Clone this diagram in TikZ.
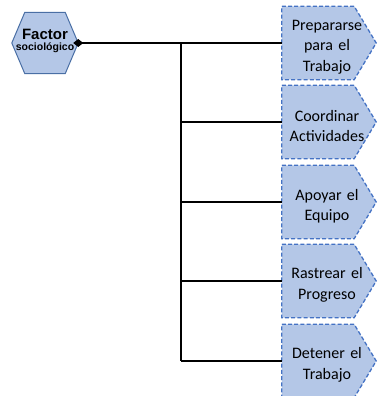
\documentclass[tikz,border=0pt]{standalone}
\usepackage{fontspec}
\setmainfont{Carlito}
\newfontfamily\headfont{Liberation Sans}
\usetikzlibrary{arrows.meta,calc}
\definecolor{boxfill}{HTML}{B4C7E7}
\definecolor{hexline}{HTML}{4A6FA5}
\definecolor{dashline}{HTML}{4472C4}
\tikzset{
  hexbox/.style={minimum width=66pt,minimum height=61pt,inner sep=0pt,align=center},
  stepbox/.style={minimum width=94pt,minimum height=73pt,inner sep=0pt,
    text width=80pt,align=center,font=\fontsize{16}{20.5}\selectfont},
  stepshape/.style={fill=boxfill,draw=dashline,line width=1.3pt,dash pattern=on 4pt off 2.2pt},
  hexshape/.style={fill=boxfill,draw=hexline,line width=1pt},
  link/.style={draw=black,line width=2pt},
}
\begin{document}
\begin{tikzpicture}[x=1pt,y=1pt]
\useasboundingbox (0,0) rectangle (376,-396);

% root hexagon
\node[hexbox] (hex) at (45,-43) {};
\draw[hexshape] (hex.west) -- ($(hex.north west)+(13,0)$) -- ($(hex.north east)+(-13,0)$)
  -- (hex.east) -- ($(hex.south east)+(-13,0)$) -- ($(hex.south west)+(13,0)$) -- cycle;
\node[align=center,font=\headfont\bfseries] at ($(hex.center)+(0,2.5)$)
  {\fontsize{15}{14}\selectfont Factor\\[-1pt]\fontsize{10.5}{12}\selectfont sociológico};

% step boxes
\foreach \i/\y/\t in {1/43/{Prepararse\\para el\\Trabajo},
                      2/122/{Coordinar\\Actividades},
                      3/202/{Apoyar el\\Equipo},
                      4/281/{Rastrear el\\Progreso},
                      5/361/{Detener el\\Trabajo}}{
  \node[stepbox] (s\i) at (329,-\y) {};
  \draw[stepshape] (s\i.north west) -- ($(s\i.north east)+(-22,0)$) -- (s\i.east)
    -- ($(s\i.south east)+(-22,0)$) -- (s\i.south west) -- cycle;
  \node[stepbox] at ($(s\i.center)+(-2,-4)$) {\t};
}

% connectors
\coordinate (fork) at (181,-43);
\draw[link,{Diamond[length=10pt,width=8pt]}-,shorten <=-5pt] (hex.east) -- (s1.west);
\draw[link] (fork) -- (fork |- s5.west);
\foreach \i in {2,...,5}{
  \draw[link] (fork |- s\i.west) -- (s\i.west);
}
\end{tikzpicture}
\end{document}
